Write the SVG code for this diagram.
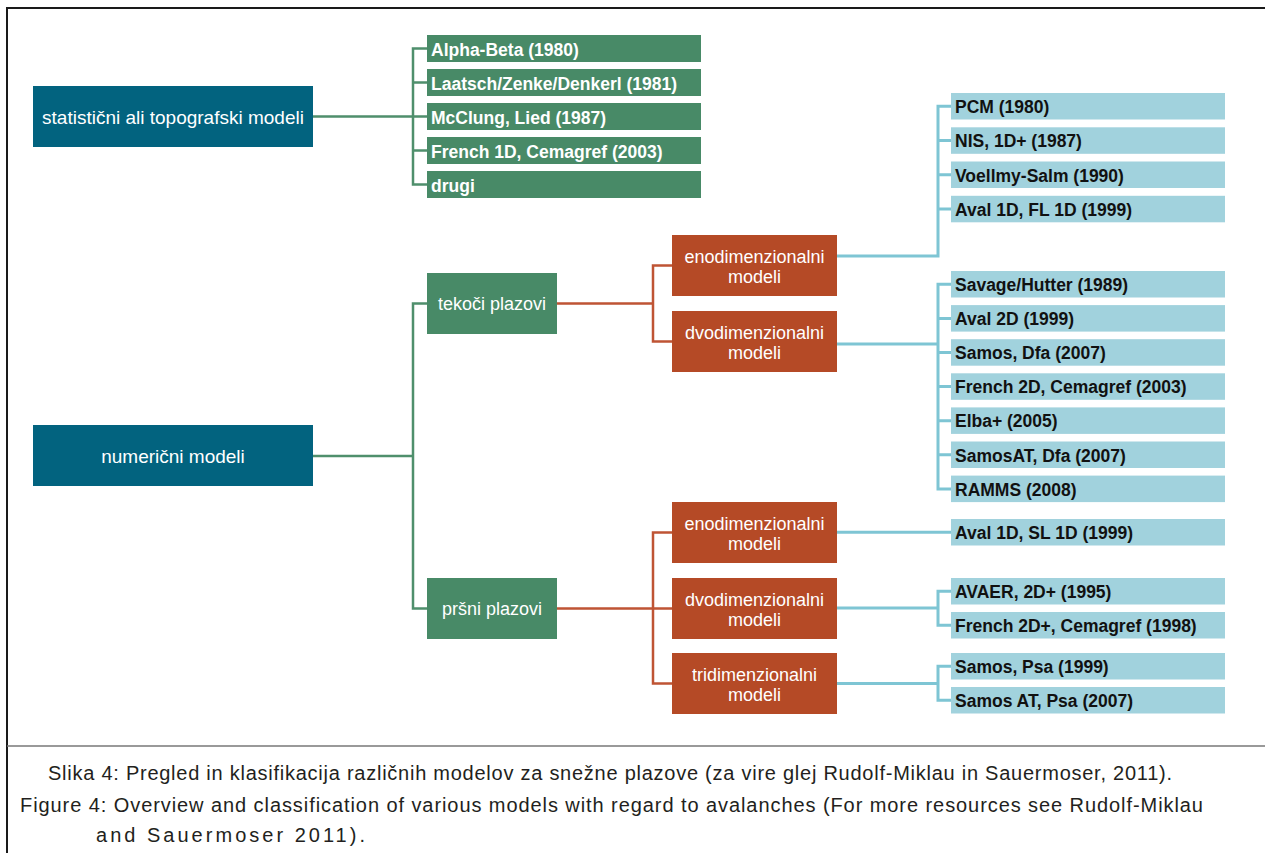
<svg xmlns="http://www.w3.org/2000/svg" width="1265" height="853" viewBox="0 0 1265 853">
<style>
.teal{fill:#02637f}
.grn{fill:#488a67}
.org{fill:#b54a26}
.blu{fill:#a1d2dd}
.tw{font-family:"Liberation Sans",Arial,sans-serif;fill:#ffffff;text-anchor:middle}
.t19{font-size:19px}
.t18{font-size:18px}
.gl{font-family:"Liberation Sans",Arial,sans-serif;font-weight:bold;font-size:17.5px;fill:#ffffff}
.bl{font-family:"Liberation Sans",Arial,sans-serif;font-weight:bold;font-size:17.5px;fill:#111111}
.cg{fill:none;stroke:#4f8f6c;stroke-width:2.5}
.co{fill:none;stroke:#bf5434;stroke-width:2.5}
.cb{fill:none;stroke:#7ec5d4;stroke-width:3}
.cap{font-family:"Liberation Sans",Arial,sans-serif;font-size:20px;fill:#231f20}
</style>
<rect width="1265" height="853" fill="#ffffff"/>
<g id="frame">
<path d="M7 853 V8 H1265" fill="none" stroke="#1a1a1a" stroke-width="2"/>
<line x1="7" y1="746" x2="1265" y2="746" stroke="#777777" stroke-width="1.5"/>
</g>
<g id="connectors">
<path class="cg" d="M313 116.5 H413 M427 48.5 H413 V184.5 H427 M413 82.5 H427 M413 116.5 H427 M413 150.5 H427"/>
<path class="cg" d="M313 456 H413 M427 303.5 H413 V608.5 H427"/>
<path class="co" d="M557 303.5 H653 M672 265.5 H653 V341.5 H672"/>
<path class="co" d="M557 608.5 H672 M672 532.5 H653 V683.5 H672"/>
<path class="cb" d="M837 256 H938 V106.3 H951 M938 140.5 H951 M938 174.8 H951 M938 209 H951"/>
<path class="cb" d="M837 344 H938 M951 284.3 H938 V488.9 H951 M938 318.4 H951 M938 352.5 H951 M938 386.6 H951 M938 420.7 H951 M938 454.8 H951"/>
<path class="cb" d="M837 532.3 H951"/>
<path class="cb" d="M837 608 H938 M951 591.3 H938 V625.3 H951"/>
<path class="cb" d="M837 683.5 H938 M951 666.3 H938 V700.3 H951"/>
</g>
<g id="n-statisticni"><rect class="teal" x="33" y="86" width="280" height="61"/><text class="tw t19" x="173" y="123.5">statistični ali topografski modeli</text></g>
<g id="n-numericni"><rect class="teal" x="33" y="425" width="280" height="61"/><text class="tw t19" x="173" y="462.5">numerični modeli</text></g>
<g id="n-alpha"><rect class="grn" x="427" y="35" width="274" height="27"/><text class="gl" x="431" y="55.5">Alpha-Beta (1980)</text></g>
<g id="n-laatsch"><rect class="grn" x="427" y="69" width="274" height="27"/><text class="gl" x="431" y="89.5">Laatsch/Zenke/Denkerl (1981)</text></g>
<g id="n-mcclung"><rect class="grn" x="427" y="103" width="274" height="27"/><text class="gl" x="431" y="123.5">McClung, Lied (1987)</text></g>
<g id="n-french1d"><rect class="grn" x="427" y="137" width="274" height="27"/><text class="gl" x="431" y="157.5">French 1D, Cemagref (2003)</text></g>
<g id="n-drugi"><rect class="grn" x="427" y="171" width="274" height="27"/><text class="gl" x="431" y="191.5">drugi</text></g>
<g id="n-tekoci"><rect class="grn" x="427" y="273" width="130" height="61"/><text class="tw t18" x="492" y="310">tekoči plazovi</text></g>
<g id="n-prsni"><rect class="grn" x="427" y="578" width="130" height="61"/><text class="tw t18" x="492" y="615">pršni plazovi</text></g>
<g id="n-eno1"><rect class="org" x="672" y="235" width="165" height="61"/><text class="tw t18" x="754.5" y="262.5">enodimenzionalni</text><text class="tw t18" x="754.5" y="283">modeli</text></g>
<g id="n-dvo1"><rect class="org" x="672" y="311" width="165" height="61"/><text class="tw t18" x="754.5" y="338.5">dvodimenzionalni</text><text class="tw t18" x="754.5" y="359">modeli</text></g>
<g id="n-eno2"><rect class="org" x="672" y="502" width="165" height="61"/><text class="tw t18" x="754.5" y="529.5">enodimenzionalni</text><text class="tw t18" x="754.5" y="550">modeli</text></g>
<g id="n-dvo2"><rect class="org" x="672" y="578" width="165" height="61"/><text class="tw t18" x="754.5" y="605.5">dvodimenzionalni</text><text class="tw t18" x="754.5" y="626">modeli</text></g>
<g id="n-tri"><rect class="org" x="672" y="653" width="165" height="61"/><text class="tw t18" x="754.5" y="680.5">tridimenzionalni</text><text class="tw t18" x="754.5" y="701">modeli</text></g>
<g id="n-pcm"><rect class="blu" x="951" y="93" width="274" height="26.5"/><text class="bl" x="955" y="113">PCM (1980)</text></g>
<g id="n-nis"><rect class="blu" x="951" y="127.3" width="274" height="26.5"/><text class="bl" x="955" y="147.3">NIS, 1D+ (1987)</text></g>
<g id="n-voellmy"><rect class="blu" x="951" y="161.5" width="274" height="26.5"/><text class="bl" x="955" y="181.5">Voellmy-Salm (1990)</text></g>
<g id="n-aval1dfl"><rect class="blu" x="951" y="195.8" width="274" height="26.5"/><text class="bl" x="955" y="215.8">Aval 1D, FL 1D (1999)</text></g>
<g id="n-savage"><rect class="blu" x="951" y="271" width="274" height="26.5"/><text class="bl" x="955" y="291">Savage/Hutter (1989)</text></g>
<g id="n-aval2d"><rect class="blu" x="951" y="305.1" width="274" height="26.5"/><text class="bl" x="955" y="325.1">Aval 2D (1999)</text></g>
<g id="n-samosdfa"><rect class="blu" x="951" y="339.2" width="274" height="26.5"/><text class="bl" x="955" y="359.2">Samos, Dfa (2007)</text></g>
<g id="n-french2d"><rect class="blu" x="951" y="373.3" width="274" height="26.5"/><text class="bl" x="955" y="393.3">French 2D, Cemagref (2003)</text></g>
<g id="n-elba"><rect class="blu" x="951" y="407.4" width="274" height="26.5"/><text class="bl" x="955" y="427.4">Elba+ (2005)</text></g>
<g id="n-samosatdfa"><rect class="blu" x="951" y="441.5" width="274" height="26.5"/><text class="bl" x="955" y="461.5">SamosAT, Dfa (2007)</text></g>
<g id="n-ramms"><rect class="blu" x="951" y="475.6" width="274" height="26.5"/><text class="bl" x="955" y="495.6">RAMMS (2008)</text></g>
<g id="n-aval1dsl"><rect class="blu" x="951" y="519" width="274" height="26.5"/><text class="bl" x="955" y="539">Aval 1D, SL 1D (1999)</text></g>
<g id="n-avaer"><rect class="blu" x="951" y="578" width="274" height="26.5"/><text class="bl" x="955" y="598">AVAER, 2D+ (1995)</text></g>
<g id="n-french2dp"><rect class="blu" x="951" y="612" width="274" height="26.5"/><text class="bl" x="955" y="632">French 2D+, Cemagref (1998)</text></g>
<g id="n-samospsa"><rect class="blu" x="951" y="653" width="274" height="26.5"/><text class="bl" x="955" y="673">Samos, Psa (1999)</text></g>
<g id="n-samosatpsa"><rect class="blu" x="951" y="687" width="274" height="26.5"/><text class="bl" x="955" y="707">Samos AT, Psa (2007)</text></g>
<g id="caption">
<text class="cap" x="48" y="780" textLength="1124" lengthAdjust="spacing">Slika 4: Pregled in klasifikacija različnih modelov za snežne plazove (za vire glej Rudolf-Miklau in Sauermoser, 2011).</text>
<text class="cap" x="20" y="812" textLength="1183" lengthAdjust="spacing">Figure 4: Overview and classification of various models with regard to avalanches (For more resources see Rudolf-Miklau</text>
<text class="cap" x="96" y="842" textLength="269" lengthAdjust="spacing">and Sauermoser 2011).</text>
</g>
</svg>
